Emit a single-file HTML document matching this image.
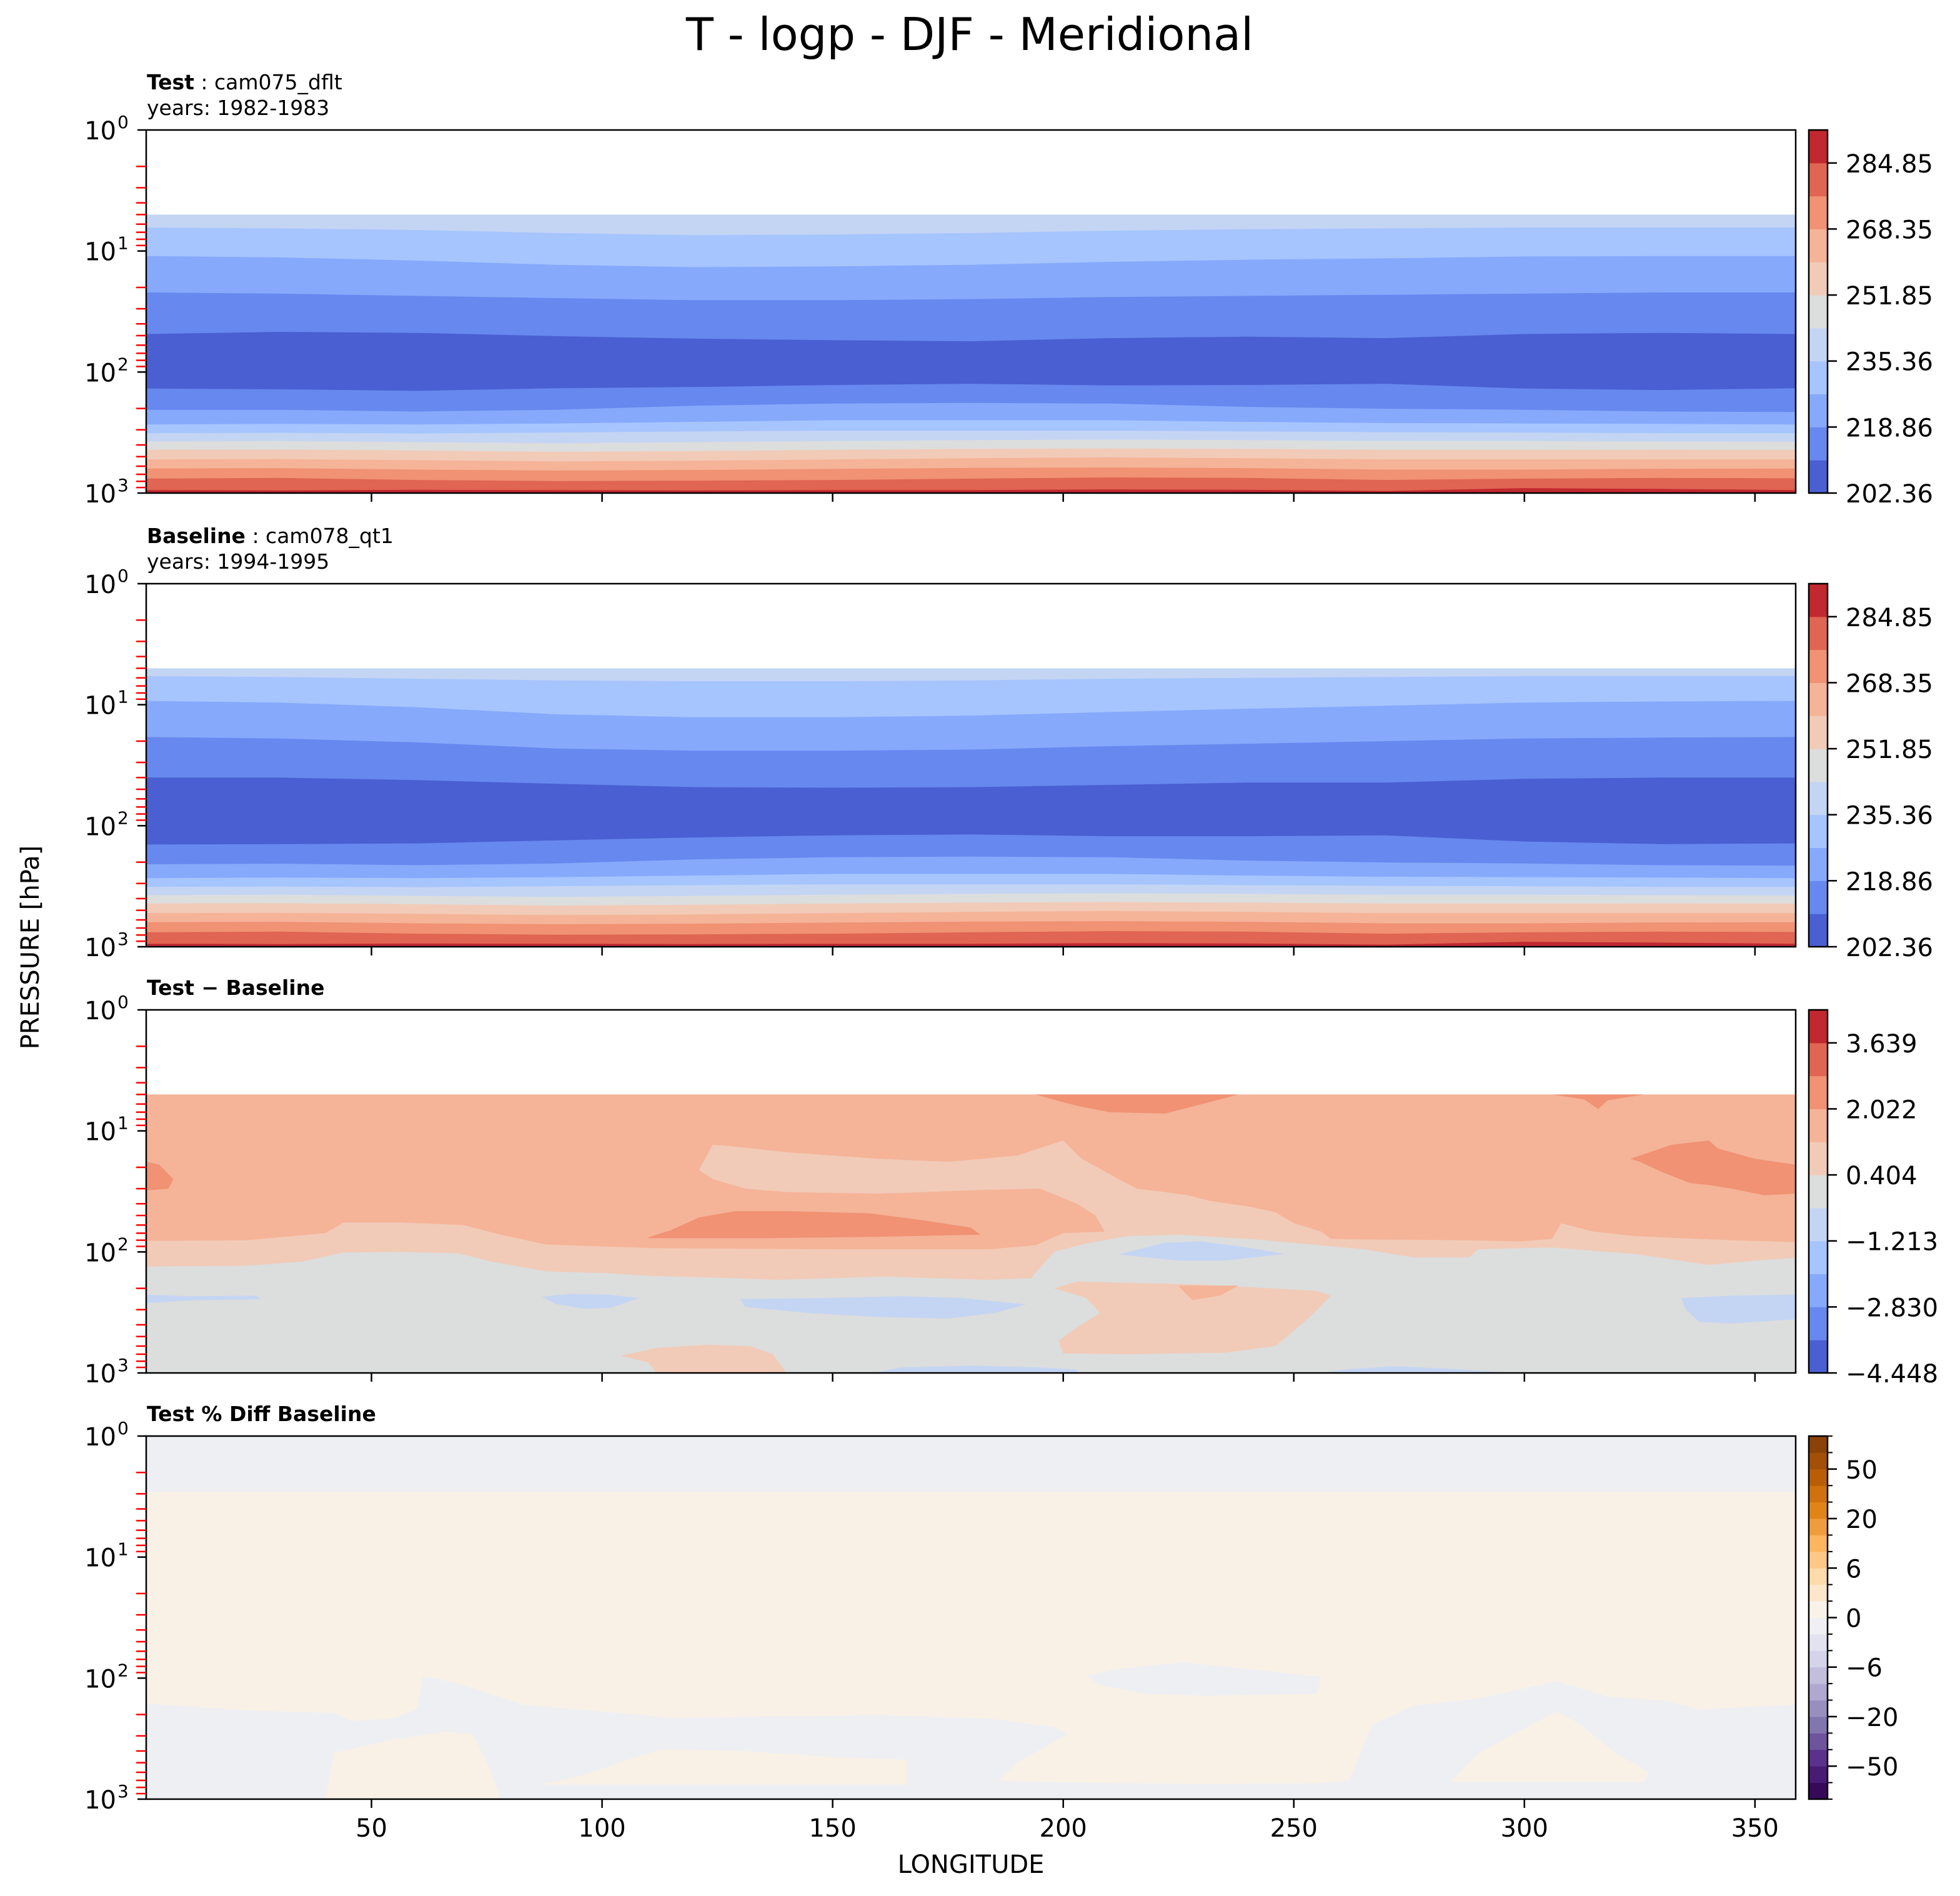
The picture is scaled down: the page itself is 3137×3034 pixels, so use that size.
<!DOCTYPE html>
<html><head><meta charset="utf-8">
<style>
html,body{margin:0;padding:0;background:#fff;}
svg{display:block;font-family:"DejaVu Sans","Liberation Sans",sans-serif;}
</style></head>
<body>
<svg id="fig" xmlns="http://www.w3.org/2000/svg" width="3137" height="3034" viewBox="0 0 3137 3034">
<rect x="0" y="0" width="3137" height="3034" fill="#fff"/>
<text x="1552" y="80" font-size="72" text-anchor="middle">T - logp - DJF - Meridional</text>
<text x="1554" y="2997" font-size="40" text-anchor="middle">LONGITUDE</text>
<text x="0" y="0" font-size="40" text-anchor="middle" transform="translate(62,1516) rotate(-90)">PRESSURE [hPa]</text>
</svg>
<script>
// ---------- data ----------
const LONS = [1.25,30,60,90,120,150,180,210,240,270,300,330,358.75];
const XTICKS = [50,100,150,200,250,300,350];
const YDECADES = [0,1,2,3];

// Panel 1 (Test) contour boundary pressures (hPa) at LONS, top to bottom
const T1_B0 = [5,5,5,5,5,5,5,5,5,5,5,5,5];
const T1_B1 = [6.4,6.5,6.7,7.1,7.4,7.3,7.1,6.8,6.6,6.5,6.4,6.4,6.4];
const T1_B2 = [11,11.3,12,13,13.6,13.4,13,12.3,11.8,11.5,11.1,11,11];
const T1_B3 = [22,22.5,23.5,24.5,25.5,25.5,25,24,23.5,23,22.5,22,22];
const T1_B4 = [48.5,46.6,47.5,50.5,53,54.6,55.7,52.5,51,52.5,48.5,47.5,48.5];
const T1_B5 = [137,139,143,136,133,128,125,129,128,125,137,141,136];
const T1_B6 = [205,205,212,205,190,182,180,182,194,201,205,212,214];
const T1_B7 = [271,268,271,266,258,250,250,250,258,264,266,268,271];
const T1_B8 = [320,318,322,316,310,305,305,305,310,314,316,320,320];
const T1_B9 = [375,372,380,387,380,372,365,362,365,372,372,375,377];
const T1_B10 = [439,437,445,457,450,440,432,428,432,440,440,439,440];
const T1_B11 = [527,525,535,548,540,528,515,508,515,528,528,527,527];
const T1_B12 = [627,622,640,652,645,632,620,615,622,640,640,630,627];
const T1_B13 = [759,750,780,795,790,780,760,743,750,780,760,750,755];
const T1_B14 = [945,950,940,945,950,945,945,935,940,960,910,925,945];
// Panel 2 (Baseline)
const T2_B0 = [5,5,5,5,5,5,5,5,5,5,5,5,5];
const T2_B1 = [5.8,5.9,6.1,6.3,6.4,6.4,6.3,6.1,6.0,5.9,5.8,5.8,5.8];
const T2_B2 = [9.3,9.6,10.5,12,12.7,12.7,12.3,11.5,10.8,10.2,9.6,9.4,9.3];
const T2_B3 = [18.5,19,20.5,23,24,24,23.5,22,21,20,19,18.7,18.5];
const T2_B4 = [40,40,42,45,48,48.5,48,46,44,44,41,40,40];
const T2_B5 = [143,142,140,132,125,120,118,122,122,120,135,142,140];
const T2_B6 = [208,206,212,205,190,182,180,182,194,201,205,212,214];
const T2_B7 = [271,268,271,266,258,250,250,250,258,264,266,268,271];
const T2_B8 = [320,318,322,316,310,305,305,305,310,314,316,320,320];
const T2_B9 = [375,372,380,387,380,372,365,362,365,372,372,375,377];
const T2_B10 = [439,437,445,457,450,440,432,428,432,440,440,439,440];
const T2_B11 = [527,525,535,548,540,528,515,508,515,528,528,527,527];
const T2_B12 = [627,622,640,652,645,632,620,615,622,640,640,630,627];
const T2_B13 = [759,750,780,795,790,780,760,743,750,780,760,750,755];
const T2_B14 = [945,950,940,945,950,945,945,935,940,960,910,925,945];
// colour bin below each boundary
const TEMP_BINS = [4,3,2,1,0,1,2,3,4,5,6,7,8,9,10];

// Panel 3 (difference) regions [lon, hPa]
const D_BASE = [[1.25,5],[358.75,5],[358.75,1000],[1.25,1000]];
const D_SAL_TOP1 = [[194,5],[238,5],[228,6.3],[222,7.2],[210,7],[203,6.2],[197,5.4]];
const D_SAL_TOP2 = [[306,5],[326,5],[318,5.6],[316,6.6],[313,5.5]];
const D_SAL_RIGHT = [[323,17],[332,13],[340,12],[342,14],[350,17],[358.75,19],[358.75,33],[352,34],[345,30],[340,28],[336,27],[330,22],[325,18]];
const D_SAL_LEFT = [[1.25,18],[4,19],[7,25],[6,30],[1.25,31]];
const D_SAL_MID = [[110,76],[115,66],[121,52],[129,46],[140,46],[158,48],[170,55],[180,63],[182,72],[160,75],[135,77],[110,77]];
const D_PALE_TONGUE = [[121,21],[124,13],[129,13.5],[140,15],[160,17],[175,18],[190,16],[200,12],[204,17],[212,25],[216,30],[222,32],[227,34],[232,38],[240,42],[246,47],[250,58],[256,68],[209,68],[207,50],[203,40],[195,30],[180,31],[160,33],[140,32],[131,30],[127,27],[124,25]];
const D_PALE_BAND = [[1.25,81],[23,80],[40,70],[44,57],[56,57],[70,60],[78,72],[88,87],[111,93],[150,95],[184,95],[194,88],[200,70],[209,68],[256,68],[258,78],[265,79],[288,80],[299,82],[306,78],[308,58],[315,68],[324,74],[334,77],[345,80],[358.75,83],[358.75,1000],[1.25,1000]];
const D_GREY = [[1.25,132],[23,130],[35,120],[44,101],[56,100],[69,103],[76,120],[88,145],[101,150],[111,158],[129,165],[138,170],[161,160],[184,170],[193,165],[198,100],[205,85],[214,74],[225,72],[242,79],[265,95],[276,111],[288,111],[290,95],[306,92],[324,104],[340,128],[350,118],[358.75,112],[358.75,1000],[1.25,1000]];
const D_PALE_WEDGE = [[198,200],[203,176],[230,186],[255,210],[258,230],[254,330],[250,450],[246,600],[235,680],[215,700],[200,690],[199,540],[203,420],[208,320],[205,240]];
const D_PALE_LOW = [[104,720],[112,620],[123,585],[132,600],[137,700],[140,1000],[112,1000],[110,820]];
const D_PEACH_SMALL = [[225,190],[238,190],[234,230],[228,250],[226,210]];
const D_BLUE1 = [[212,105],[222,84],[230,82],[240,92],[248,104],[235,118],[225,118]];
const D_BLUE2 = [[1.25,226],[10,232],[25,230],[26,245],[10,252],[1.25,265]];
const D_BLUE3 = [[87,235],[93,222],[101,225],[108,240],[102,290],[96,295],[90,270]];
const D_BLUE4 = [[130,245],[150,240],[165,232],[178,240],[192,272],[185,320],[175,355],[160,345],[145,320],[131,285]];
const D_BLUE5 = [[334,240],[345,230],[358.75,225],[358.75,360],[345,390],[338,380],[335,300]];
const D_BLUE6 = [[159,1000],[165,900],[180,870],[195,900],[203,940],[203,1000]];
const D_BLUE7 = [[256,1000],[262,930],[272,880],[285,930],[297,1000]];

// Panel 4 (% diff) regions [lon, hPa]
const P_BASE = [[1.25,1],[358.75,1],[358.75,1000],[1.25,1000]];
const P_CREAM_MAIN = [[1.25,2.9],[358.75,2.9],[358.75,166],[338,181],[331,155],[318,142],[307,106],[290,148],[276,169],[267,242],[262,700],[255,739],[230,750],[200,730],[186,700],[190,500],[201,289],[198,253],[184,216],[161,202],[115,212],[83,166],[69.5,113],[63,99],[61,99],[60,180],[55,215],[46,226],[42,194],[23.6,185],[1.25,162]];
const P_CREAM_A = [[40,1000],[42,414],[55,320],[66,277],[72,290],[76,600],[78,1000]];
const P_CREAM_B = [[86,760],[95,650],[105,480],[113,387],[130,400],[150,450],[166,473],[166,760]];
const P_CREAM_D = [[284,720],[290,420],[300,260],[307,189],[312,240],[320,420],[327,600],[326,720]];
const P_LAV_E = [[205,95],[212,84],[226,74],[245,88],[256,98],[255,135],[230,140],[218,135],[208,115]];

// colorbar values
const CB1_TICKS = ['202.36','218.86','235.36','251.85','268.35','284.85'];
const CB3_TICKS = ['\u22124.448','\u22122.830','\u22121.213','0.404','2.022','3.639'];
const CB4_TICKS = ['\u221250','\u221220','\u22126','0','6','20','50'];
const CB4_TICK_IDX = [2,5,8,11,14,17,20];

// ---------- styling ----------
const CW = ['#4a5fd1','#6788ee','#86a9fc','#a6c4fe','#c4d5f3','#dcdddd','#f1cbb7','#f5b398','#f09273','#e06552','#c1282f'];
const PUOR_ANCH = ['#2d004b','#542788','#8073ac','#b2abd2','#d8daeb','#f7f7f7','#fee0b6','#fdb863','#e08214','#b35806','#7f3b08'];
const LAV = '#eeeff3', CREAM = '#f9f1e6';

const NS='http://www.w3.org/2000/svg';
const fig=document.getElementById('fig');
const X0=225.5, XK=7.381, PL=234, PR=2874, H=581;
const TOPS=[208,934,1616,2298];
function xs(lon){return X0+lon*XK;}
function ys(p,top){return top+Math.log10(p)*H/3;}
function mk(tag,attrs,parent){const e=document.createElementNS(NS,tag);for(const k in attrs)e.setAttribute(k,attrs[k]);(parent||fig).appendChild(e);return e;}
function hex(c){return [1,3,5].map(i=>parseInt(c.substr(i,2),16));}
function puor(t){const n=PUOR_ANCH.length-1;const f=t*n;const i=Math.min(n-1,Math.floor(f));const r=f-i;const a=hex(PUOR_ANCH[i]),b=hex(PUOR_ANCH[i+1]);return 'rgb('+a.map((v,j)=>Math.round(v+(b[j]-v)*r)).join(',')+')';}

function panelGroup(idx){
  const top=TOPS[idx];
  const cp=mk('clipPath',{id:'clip'+idx});
  mk('rect',{x:PL,y:top,width:PR-PL,height:H},cp);
  const g=mk('g',{'clip-path':'url(#clip'+idx+')'});
  
  
  return g;
}
function bandPanel(idx,bounds,bins){
  const top=TOPS[idx], g=panelGroup(idx);
  bounds.forEach((b,k)=>{
    let pts=LONS.map((l,i)=>xs(l).toFixed(1)+','+ys(b[i],top).toFixed(1));
    pts.push(xs(LONS[LONS.length-1]).toFixed(1)+','+(top+H));
    pts.push(xs(LONS[0]).toFixed(1)+','+(top+H));
    const e=mk('polygon',{points:pts.join(' '),fill:CW[bins[k]]},g);
    
    
  });
}
function polyPanel(idx,list){
  const top=TOPS[idx], g=panelGroup(idx);
  list.forEach(([arr,col,name])=>{
    const pts=arr.map(([l,p])=>xs(l).toFixed(1)+','+ys(p,top).toFixed(1)).join(' ');
    const e=mk('polygon',{points:pts,fill:col},g);
    
    
  });
}
bandPanel(0,[T1_B0,T1_B1,T1_B2,T1_B3,T1_B4,T1_B5,T1_B6,T1_B7,T1_B8,T1_B9,T1_B10,T1_B11,T1_B12,T1_B13,T1_B14],TEMP_BINS);
bandPanel(1,[T2_B0,T2_B1,T2_B2,T2_B3,T2_B4,T2_B5,T2_B6,T2_B7,T2_B8,T2_B9,T2_B10,T2_B11,T2_B12,T2_B13,T2_B14],TEMP_BINS);
polyPanel(2,[[D_BASE,CW[7],'diff-base'],[D_SAL_TOP1,CW[8],'diff-blob-top1'],[D_SAL_TOP2,CW[8],'diff-blob-top2'],[D_SAL_RIGHT,CW[8],'diff-blob-right'],[D_SAL_LEFT,CW[8],'diff-blob-left'],[D_SAL_MID,CW[8],'diff-blob-mid'],[D_PALE_TONGUE,CW[6],'diff-pale-tongue'],[D_PALE_BAND,CW[6],'diff-pale-band'],[D_GREY,CW[5],'diff-grey-region'],[D_PALE_WEDGE,CW[6],'diff-pale-wedge'],[D_PALE_LOW,CW[6],'diff-pale-low'],[D_PEACH_SMALL,CW[7],'diff-peach-small'],[D_BLUE1,CW[4],'diff-blue-1'],[D_BLUE2,CW[4],'diff-blue-2'],[D_BLUE3,CW[4],'diff-blue-3'],[D_BLUE4,CW[4],'diff-blue-4'],[D_BLUE5,CW[4],'diff-blue-5'],[D_BLUE6,CW[4],'diff-blue-6'],[D_BLUE7,CW[4],'diff-blue-7']]);
polyPanel(3,[[P_BASE,LAV,'pct-base'],[P_CREAM_MAIN,CREAM,'pct-cream-main'],[P_CREAM_A,CREAM,'pct-cream-a'],[P_CREAM_B,CREAM,'pct-cream-b'],[P_CREAM_D,CREAM,'pct-cream-d'],[P_LAV_E,LAV,'pct-lavender-e']]);

// axes
for(let i=0;i<4;i++){
  const top=TOPS[i];
  const fr=mk('rect',{x:PL,y:top,width:PR-PL,height:H,fill:'none',stroke:'#000','stroke-width':2.5});
  
  
  XTICKS.forEach(v=>{
    const t=mk('line',{x1:xs(v),x2:xs(v),y1:top+H,y2:top+H+14,stroke:'#000','stroke-width':2.5});
    
    
    if(i===3){
      const l=mk('text',{x:xs(v),y:top+H+60,'font-size':40,'text-anchor':'middle'});
      l.textContent=v;
      
      
    }
  });
  YDECADES.forEach(d=>{
    const y=top+d*H/3;
    const t=mk('line',{x1:220,x2:PL,y1:y,y2:y,stroke:'#000','stroke-width':2.5});
    
    
    const l=mk('text',{x:186,y:y+15,'font-size':40,'text-anchor':'end'});
    l.textContent='10';
    
    
    const s=mk('text',{x:188,y:y-3,'font-size':28});
    s.textContent=String(d);
    
    
    if(d<3){for(let m=2;m<=9;m++){
      const ym=ys(m*Math.pow(10,d),top);
      const r=mk('line',{x1:218,x2:PL,y1:ym,y2:ym,stroke:'#ff0000','stroke-width':2.5});
      
      
    }}
  });
}
// subtitles
function subtitle(top,bold,rest,line2){
  const t=mk('text',{x:235,y:line2?top-65:top-24,'font-size':33});
  
  
  const b=mk('tspan',{'font-weight':'bold'},t);b.textContent=bold;
  if(rest){const r=mk('tspan',{},t);r.textContent=rest;}
  if(line2){const t2=mk('text',{x:235,y:top-24,'font-size':33});t2.textContent=line2;
    
    }
}
subtitle(TOPS[0],'Test',' : cam075_dflt','years: 1982-1983');
subtitle(TOPS[1],'Baseline',' : cam078_qt1','years: 1994-1995');
subtitle(TOPS[2],'Test \u2212 Baseline','',null);
subtitle(TOPS[3],'Test % Diff Baseline','',null);

// colorbars
const CBX=2895, CBW=30;
function colorbar(i,nb,colFn,tickIdx,labels,minor){
  const top=TOPS[i], bh=H/nb;
  for(let k=0;k<nb;k++){
    const r=mk('rect',{x:CBX,y:top+H-(k+1)*bh,width:CBW,height:bh+0.5,fill:colFn(k)});
    
    
  }
  const fr=mk('rect',{x:CBX,y:top,width:CBW,height:H,fill:'none',stroke:'#000','stroke-width':2.5});
  
  
  if(minor){for(let k=0;k<=nb;k++){const y=top+H-k*bh;
    const m=mk('line',{x1:CBX+CBW,x2:CBX+CBW+8,y1:y,y2:y,stroke:'#000','stroke-width':2});
    
    }}
  tickIdx.forEach((ti,j)=>{
    const y=top+H-ti*bh;
    const t=mk('line',{x1:CBX+CBW,x2:CBX+CBW+15,y1:y,y2:y,stroke:'#000','stroke-width':2.5});
    
    
    const l=mk('text',{x:2954,y:y+15,'font-size':40});
    l.textContent=labels[j];
    
    
  });
}
colorbar(0,11,k=>CW[k],[0,2,4,6,8,10],CB1_TICKS,false);
colorbar(1,11,k=>CW[k],[0,2,4,6,8,10],CB1_TICKS,false);
colorbar(2,11,k=>CW[k],[0,2,4,6,8,10],CB3_TICKS,false);
colorbar(3,22,k=>puor((k+0.5)/22),CB4_TICK_IDX,CB4_TICKS,true);
</script>
</body></html>
